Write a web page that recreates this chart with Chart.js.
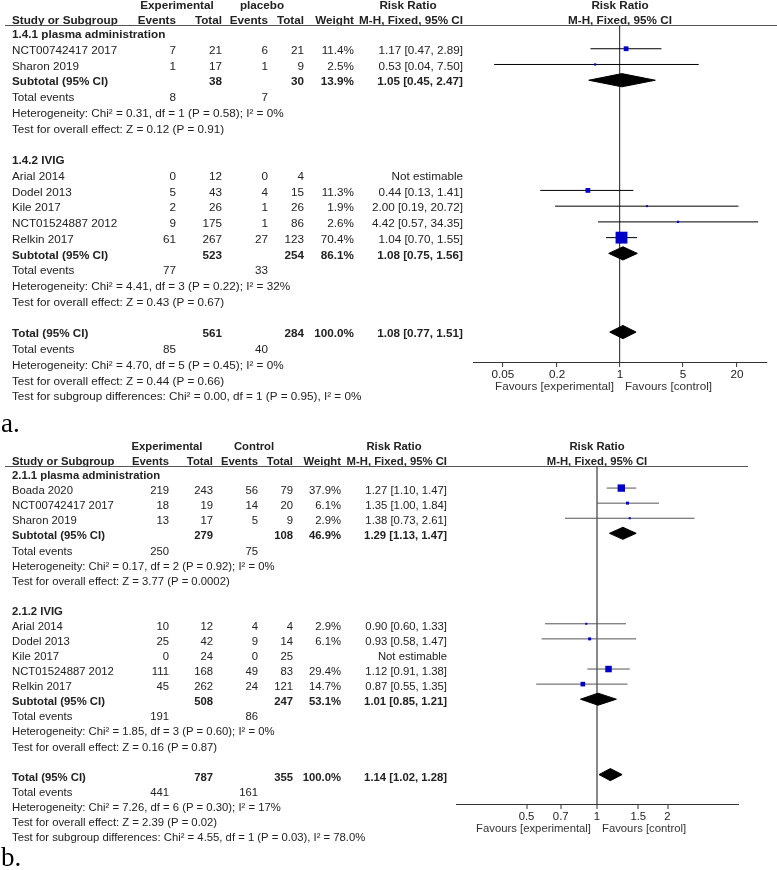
<!DOCTYPE html>
<html>
<head>
<meta charset="utf-8">
<script src="https://cdn.jsdelivr.net/npm/chart.js"></script>
<style>
  body { margin: 0; background: #fff; width: 777px; height: 870px; position: relative; overflow: hidden; }
  canvas { position: absolute; left: 0; }
  .tag { position: absolute; left: 1px; font-family: 'Liberation Serif', 'Times New Roman', serif; font-size: 27px; line-height: 1; color: #000; }
</style>
</head>
<body>
<canvas id="plotA" width="777" height="410" style="top:0"></canvas>
<div class="tag" style="top:410px">a.</div>
<canvas id="plotB" width="777" height="434" style="top:436px"></canvas>
<div class="tag" style="top:844px">b.</div>

<script>
// ---------- panel a : placebo comparison ----------
const studiesA = ['NCT00742417 2017', 'Sharon 2019', 'Arial 2014', 'Dodel 2013', 'Kile 2017', 'NCT01524887 2012', 'Relkin 2017'];
const groupOfA = [0, 0, 1, 1, 1, 1, 1];
const expEventsA = [7, 1, 0, 5, 2, 9, 61];
const expTotalA = [21, 17, 12, 43, 26, 175, 267];
const ctlEventsA = [6, 1, 0, 4, 1, 1, 27];
const ctlTotalA = [21, 9, 4, 15, 26, 86, 123];
const weightA = [11.4, 2.5, null, 11.3, 1.9, 2.6, 70.4];
const rrA = [1.17, 0.53, null, 0.44, 2.00, 4.42, 1.04];
const lowA = [0.47, 0.04, null, 0.13, 0.19, 0.57, 0.70];
const highA = [2.89, 7.50, null, 1.41, 20.72, 34.35, 1.55];

const groupsA = ['1.4.1 plasma administration', '1.4.2 IVIG'];
const subExpTotalA = [38, 523];
const subCtlTotalA = [30, 254];
const subWeightA = [13.9, 86.1];
const subRrA = [1.05, 1.08];
const subLowA = [0.45, 0.75];
const subHighA = [2.47, 1.56];
const subExpEventsA = [8, 77];
const subCtlEventsA = [7, 33];
const subHetA = ['Heterogeneity: Chi² = 0.31, df = 1 (P = 0.58); I² = 0%', 'Heterogeneity: Chi² = 4.41, df = 3 (P = 0.22); I² = 32%'];
const subTestA = ['Test for overall effect: Z = 0.12 (P = 0.91)', 'Test for overall effect: Z = 0.43 (P = 0.67)'];

const totalTotalsA = [561, 284];       // experimental, control
const totalEventsA = [85, 40];
const totalEstA = [1.08, 0.77, 1.51];  // RR, lower, upper
const totalLinesA = ['Heterogeneity: Chi² = 4.70, df = 5 (P = 0.45); I² = 0%', 'Test for overall effect: Z = 0.44 (P = 0.66)', 'Test for subgroup differences: Chi² = 0.00, df = 1 (P = 0.95), I² = 0%'];
const ticksA = [0.05, 0.2, 1, 5, 20];

// ---------- panel b : control comparison ----------
const studiesB = ['Boada 2020', 'NCT00742417 2017', 'Sharon 2019', 'Arial 2014', 'Dodel 2013', 'Kile 2017', 'NCT01524887 2012', 'Relkin 2017'];
const groupOfB = [0, 0, 0, 1, 1, 1, 1, 1];
const expEventsB = [219, 18, 13, 10, 25, 0, 111, 45];
const expTotalB = [243, 19, 17, 12, 42, 24, 168, 262];
const ctlEventsB = [56, 14, 5, 4, 9, 0, 49, 24];
const ctlTotalB = [79, 20, 9, 4, 14, 25, 83, 121];
const weightB = [37.9, 6.1, 2.9, 2.9, 6.1, null, 29.4, 14.7];
const rrB = [1.27, 1.35, 1.38, 0.90, 0.93, null, 1.12, 0.87];
const lowB = [1.10, 1.00, 0.73, 0.60, 0.58, null, 0.91, 0.55];
const highB = [1.47, 1.84, 2.61, 1.33, 1.47, null, 1.38, 1.35];

const groupsB = ['2.1.1 plasma administration', '2.1.2 IVIG'];
const subExpTotalB = [279, 508];
const subCtlTotalB = [108, 247];
const subWeightB = [46.9, 53.1];
const subRrB = [1.29, 1.01];
const subLowB = [1.13, 0.85];
const subHighB = [1.47, 1.21];
const subExpEventsB = [250, 191];
const subCtlEventsB = [75, 86];
const subHetB = ['Heterogeneity: Chi² = 0.17, df = 2 (P = 0.92); I² = 0%', 'Heterogeneity: Chi² = 1.85, df = 3 (P = 0.60); I² = 0%'];
const subTestB = ['Test for overall effect: Z = 3.77 (P = 0.0002)', 'Test for overall effect: Z = 0.16 (P = 0.87)'];

const totalTotalsB = [787, 355];
const totalEventsB = [441, 161];
const totalEstB = [1.14, 1.02, 1.28];
const totalLinesB = ['Heterogeneity: Chi² = 7.26, df = 6 (P = 0.30); I² = 17%', 'Test for overall effect: Z = 2.39 (P = 0.02)', 'Test for subgroup differences: Chi² = 4.55, df = 1 (P = 0.03), I² = 78.0%'];
const ticksB = [0.5, 0.7, 1, 1.5, 2];

const FONT = "'Liberation Sans', Arial, sans-serif";

function ciText(rr, lo, hi) {
  return rr.toFixed(2) + ' [' + lo.toFixed(2) + ', ' + hi.toFixed(2) + ']';
}

function drawPanel(id, d, L) {
  // table rows, one per line of the RevMan layout
  const rows = [];
  let r = 0;
  d.groups.forEach((g, gi) => {
    rows.push({ r: r++, kind: 'group', gi });
    d.studies.forEach((s, i) => { if (d.groupOf[i] === gi) rows.push({ r: r++, kind: 'study', i }); });
    rows.push({ r: r++, kind: 'sub', gi });
    rows.push({ r: r++, kind: 'subEvents', gi });
    rows.push({ r: r++, kind: 'line', text: d.subHet[gi] });
    rows.push({ r: r++, kind: 'line', text: d.subTest[gi] });
    r++;
  });
  rows.push({ r: r++, kind: 'total' });
  rows.push({ r: r++, kind: 'totalEvents' });
  d.totalLines.forEach(t => rows.push({ r: r++, kind: 'line', text: t }));

  const datasets = [];
  const squares = [];
  const sqRadius = [];
  const diamond = (est, lo, hi, row) => {
    datasets.push({ data: [{ x: lo, y: row }, { x: est, y: row - L.dh }, { x: hi, y: row }],
      fill: '+1', backgroundColor: '#000', borderColor: '#000', borderWidth: 1, pointRadius: 0, order: 1 });
    datasets.push({ data: [{ x: lo, y: row }, { x: est, y: row + L.dh }, { x: hi, y: row }],
      fill: false, borderColor: '#000', borderWidth: 1, pointRadius: 0, order: 1 });
  };
  rows.forEach(row => {
    if (row.kind === 'study' && d.rr[row.i] != null) {
      datasets.push({ data: [{ x: d.low[row.i], y: row.r }, { x: d.high[row.i], y: row.r }],
        borderColor: L.ciColor, borderWidth: 1, pointRadius: 0, fill: false, order: 2 });
      squares.push({ x: d.rr[row.i], y: row.r });
      sqRadius.push(Math.sqrt(d.weight[row.i]) * L.sq);
    }
    if (row.kind === 'sub') diamond(d.subRr[row.gi], d.subLow[row.gi], d.subHigh[row.gi], row.r);
    if (row.kind === 'total') diamond(d.totalEst[0], d.totalEst[1], d.totalEst[2], row.r);
  });
  datasets.push({ data: squares, showLine: false, pointStyle: 'rect', pointRadius: sqRadius,
    pointBackgroundColor: '#0000c8', pointBorderWidth: 0, order: 0 });

  const tablePlugin = {
    id: 'table',
    afterDraw(chart) {
      const ctx = chart.ctx, ys = chart.scales.y, xs = chart.scales.x, area = chart.chartArea;
      const C = L.cols;
      const put = (text, px, py, align, bold, color) => {
        if (text === null || text === undefined || text === '') return;
        ctx.font = (bold ? 'bold ' : '') + L.fs + 'px ' + FONT;
        ctx.textAlign = align;
        ctx.textBaseline = 'middle';
        ctx.fillStyle = color || '#222';
        ctx.fillText(String(text), px, py);
      };
      ctx.save();
      // header
      const h1 = area.top - 19.5, h2 = area.top - 4.5;
      const one = xs.getPixelForValue(1);
      put('Experimental', C.expHead, h1, 'center', true);
      put(d.ctlName, C.ctlHead, h1, 'center', true);
      put('Risk Ratio', C.rrHead, h1, 'center', true);
      put('Risk Ratio', one, h1, 'center', true);
      put('Study or Subgroup', C.name, h2, 'left', true);
      put('Events', C.expEv, h2, 'right', true);
      put('Total', C.expTot, h2, 'right', true);
      put('Events', C.ctlEv, h2, 'right', true);
      put('Total', C.ctlTot, h2, 'right', true);
      put('Weight', C.weight, h2, 'right', true);
      put('M-H, Fixed, 95% CI', C.rr, h2, 'right', true);
      put('M-H, Fixed, 95% CI', one, h2, 'center', true);
      ctx.strokeStyle = '#555';
      ctx.lineWidth = 1;
      ctx.beginPath();
      ctx.moveTo(5, Math.round(area.top) + 0.5);
      ctx.lineTo(area.right + 10, Math.round(area.top) + 0.5);
      ctx.stroke();

      rows.forEach(row => {
        const py = ys.getPixelForValue(row.r) + L.textShift;
        if (row.kind === 'group') put(d.groups[row.gi], C.name, py, 'left', true);
        if (row.kind === 'study') {
          const i = row.i;
          put(d.studies[i], C.name, py, 'left');
          put(d.expEvents[i], C.expEv, py, 'right');
          put(d.expTotal[i], C.expTot, py, 'right');
          put(d.ctlEvents[i], C.ctlEv, py, 'right');
          put(d.ctlTotal[i], C.ctlTot, py, 'right');
          put(d.weight[i] == null ? '' : d.weight[i].toFixed(1) + '%', C.weight, py, 'right');
          put(d.rr[i] == null ? 'Not estimable' : ciText(d.rr[i], d.low[i], d.high[i]), C.rr, py, 'right');
        }
        if (row.kind === 'sub') {
          const g = row.gi;
          put('Subtotal (95% CI)', C.name, py, 'left', true);
          put(d.subExpTotal[g], C.expTot, py, 'right', true);
          put(d.subCtlTotal[g], C.ctlTot, py, 'right', true);
          put(d.subWeight[g].toFixed(1) + '%', C.weight, py, 'right', true);
          put(ciText(d.subRr[g], d.subLow[g], d.subHigh[g]), C.rr, py, 'right', true);
        }
        if (row.kind === 'subEvents') {
          put('Total events', C.name, py, 'left');
          put(d.subExpEvents[row.gi], C.expEv, py, 'right');
          put(d.subCtlEvents[row.gi], C.ctlEv, py, 'right');
        }
        if (row.kind === 'total') {
          put('Total (95% CI)', C.name, py, 'left', true);
          put(d.totalTotals[0], C.expTot, py, 'right', true);
          put(d.totalTotals[1], C.ctlTot, py, 'right', true);
          put('100.0%', C.weight, py, 'right', true);
          put(ciText(d.totalEst[0], d.totalEst[1], d.totalEst[2]), C.rr, py, 'right', true);
        }
        if (row.kind === 'totalEvents') {
          put('Total events', C.name, py, 'left');
          put(d.totalEvents[0], C.expEv, py, 'right');
          put(d.totalEvents[1], C.ctlEv, py, 'right');
        }
        if (row.kind === 'line') put(row.text, C.name, py, 'left');
      });

      // favours labels under the axis
      const fy = area.bottom + 25;
      put('Favours [experimental]', one - 6, fy, 'right', false, '#333');
      put('Favours [control]', one + 5, fy, 'left', false, '#333');
      ctx.restore();
    }
  };

  return new Chart(document.getElementById(id), {
    type: 'line',
    data: { datasets },
    options: {
      responsive: false,
      animation: false,
      events: [],
      layout: { padding: L.padding },
      elements: { line: { tension: 0 } },
      plugins: { legend: { display: false }, tooltip: { enabled: false } },
      scales: {
        x: {
          type: 'logarithmic',
          min: L.xMin,
          max: L.xMax,
          afterBuildTicks: s => { s.ticks = d.ticks.map(v => ({ value: v })); },
          afterFit: s => { s.height = 30; },
          ticks: { autoSkip: false, maxRotation: 0, padding: 1, color: '#222',
            font: { family: FONT, size: L.fs }, callback: v => String(v) },
          grid: {
            color: c => (c.tick && c.tick.value === 1) ? L.refColor : 'rgba(0,0,0,0)',
            lineWidth: L.refWidth,
            drawTicks: true, tickLength: 5, tickColor: '#333', tickWidth: 1
          },
          border: { display: true, color: '#333', width: 1 }
        },
        y: { type: 'linear', display: false, reverse: true, min: L.yMin, max: L.yMax }
      }
    },
    plugins: [tablePlugin]
  });
}

drawPanel('plotA', {
  studies: studiesA, groupOf: groupOfA, expEvents: expEventsA, expTotal: expTotalA,
  ctlEvents: ctlEventsA, ctlTotal: ctlTotalA, weight: weightA, rr: rrA, low: lowA, high: highA,
  groups: groupsA, subExpTotal: subExpTotalA, subCtlTotal: subCtlTotalA, subWeight: subWeightA,
  subRr: subRrA, subLow: subLowA, subHigh: subHighA, subExpEvents: subExpEventsA, subCtlEvents: subCtlEventsA,
  subHet: subHetA, subTest: subTestA, totalTotals: totalTotalsA, totalEvents: totalEventsA,
  totalEst: totalEstA, totalLines: totalLinesA, ticks: ticksA, ctlName: 'placebo'
}, {
  fs: 11.7, textShift: 2, dh: 0.42, sq: 1.0,
  padding: { left: 473, right: 10, top: 25, bottom: 18 },
  xMin: 0.0233, xMax: 43, yMin: -0.508, yMax: 20.9,
  ciColor: '#000', refColor: '#444', refWidth: 1.2,
  cols: { name: 12, expEv: 176, expTot: 222, ctlEv: 268, ctlTot: 304, weight: 354, rr: 463,
          expHead: 177, ctlHead: 262, rrHead: 408 }
});

drawPanel('plotB', {
  studies: studiesB, groupOf: groupOfB, expEvents: expEventsB, expTotal: expTotalB,
  ctlEvents: ctlEventsB, ctlTotal: ctlTotalB, weight: weightB, rr: rrB, low: lowB, high: highB,
  groups: groupsB, subExpTotal: subExpTotalB, subCtlTotal: subCtlTotalB, subWeight: subWeightB,
  subRr: subRrB, subLow: subLowB, subHigh: subHighB, subExpEvents: subExpEventsB, subCtlEvents: subCtlEventsB,
  subHet: subHetB, subTest: subTestB, totalTotals: totalTotalsB, totalEvents: totalEventsB,
  totalEst: totalEstB, totalLines: totalLinesB, ticks: ticksB, ctlName: 'Control'
}, {
  fs: 11.3, textShift: 3, dh: 0.4, sq: 0.85,
  padding: { left: 456, right: 39, top: 30, bottom: 36 },
  xMin: 0.25, xMax: 4, yMin: -0.464, yMax: 21.95,
  ciColor: '#555', refColor: '#888', refWidth: 2,
  cols: { name: 12, expEv: 169, expTot: 213, ctlEv: 258, ctlTot: 293, weight: 341, rr: 447,
          expHead: 167, ctlHead: 254, rrHead: 394 }
});
</script>
</body>
</html>
